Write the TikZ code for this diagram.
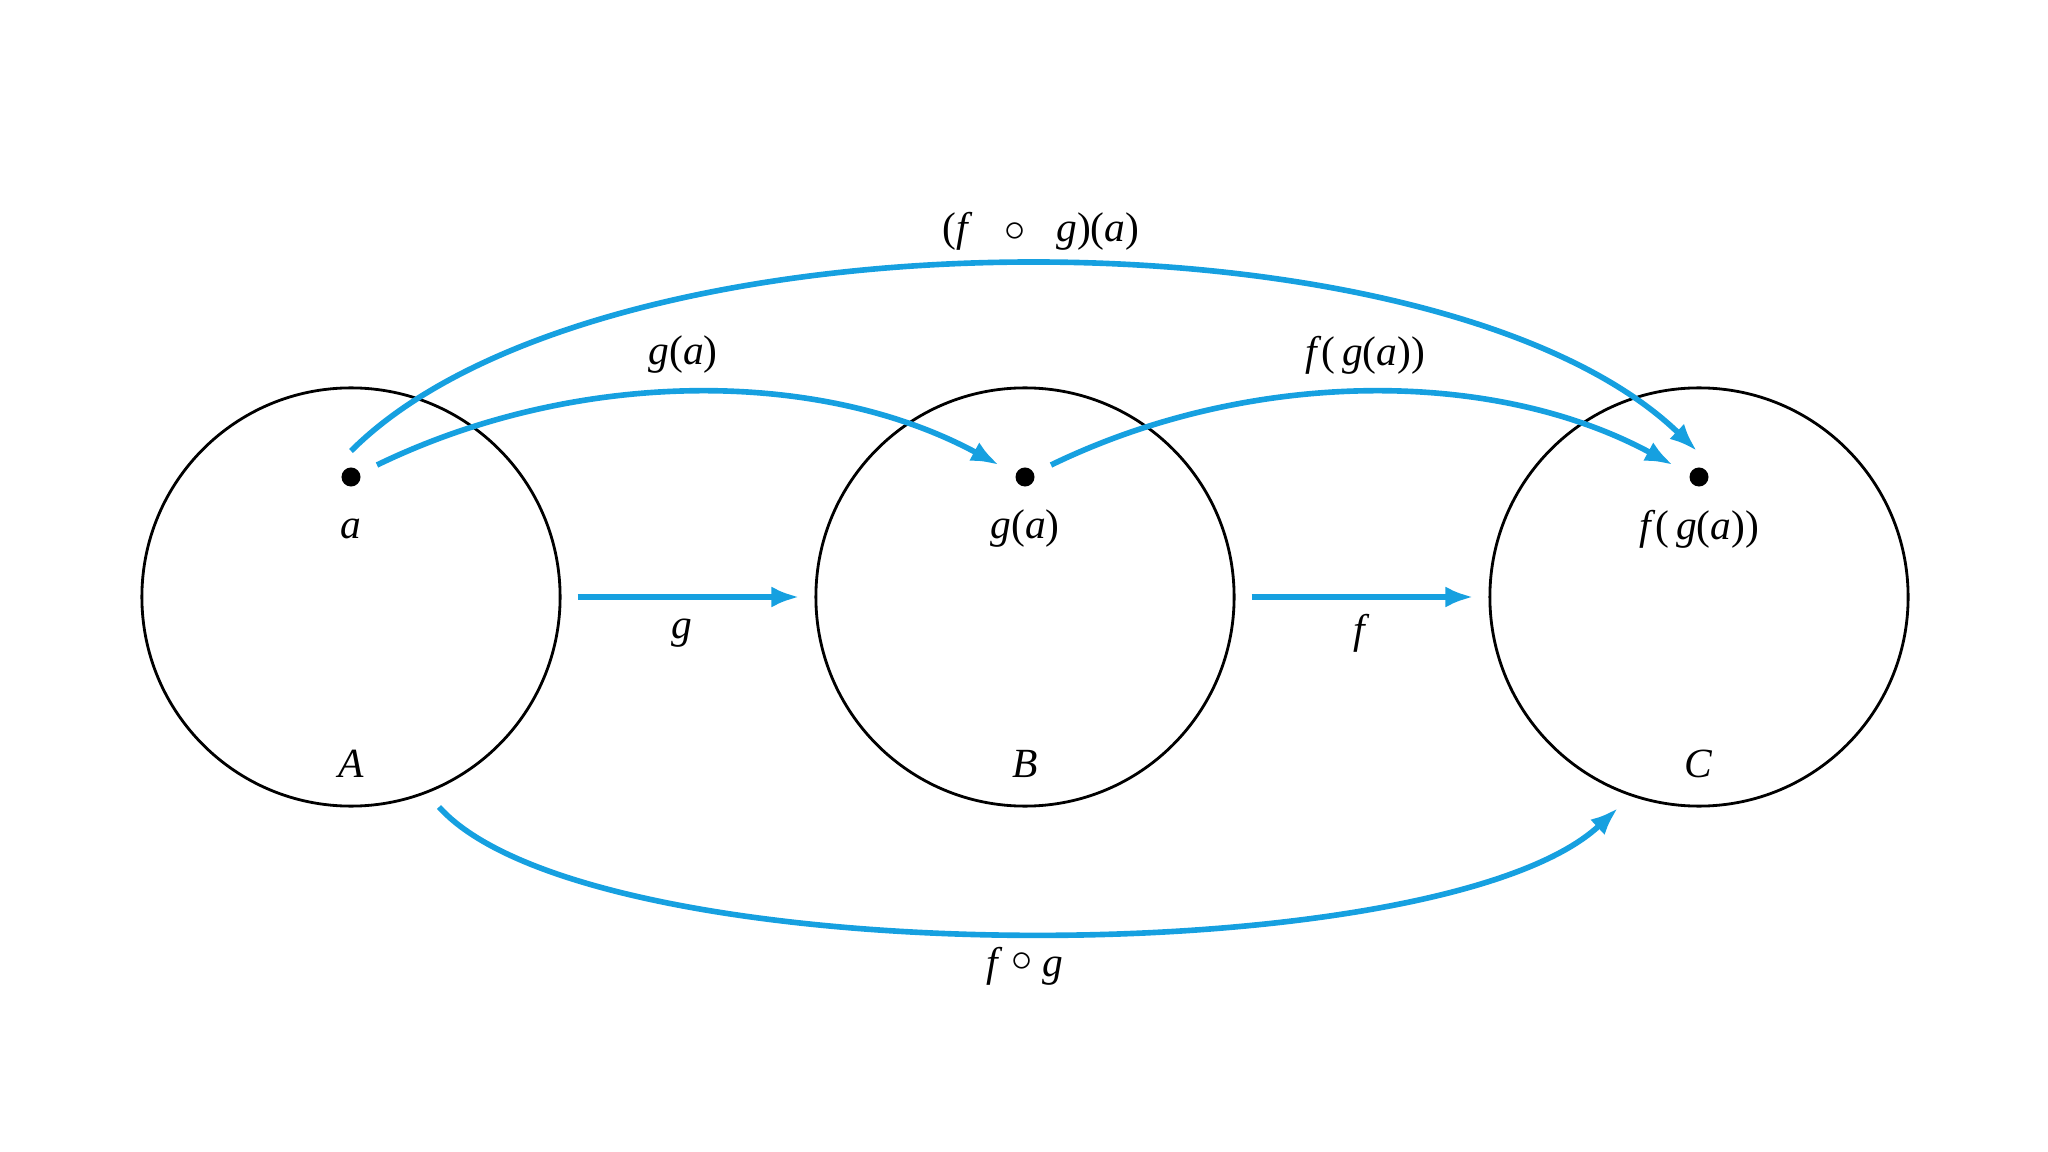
\documentclass[tikz,border=0pt]{standalone}
\usepackage{fontspec}
\setmainfont{Liberation Serif}
\usetikzlibrary{arrows.meta,calc}
\definecolor{mapblue}{RGB}{22,160,224}
\begin{document}
\begin{tikzpicture}[x=0.01cm,y=-0.01cm,
  setcircle/.style={circle,draw=black,line width=0.8pt,minimum size=4.18cm,inner sep=0pt},
  elemdot/.style={circle,fill=black,inner sep=0pt,minimum size=0.19cm},
  maparrow/.style={draw=mapblue,line width=1.6pt,-{Latex[length=0.28cm,width=0.21cm]}},
  lbl/.style={inner sep=0pt,font=\fontsize{11.8}{14}\selectfont}]
\useasboundingbox (0,0) rectangle (2048,1152);
% sets
\node[setcircle] (A) at (351,597) {};
\node[setcircle] (B) at (1025,597) {};
\node[setcircle] (C) at (1699,597) {};
% elements
\node[elemdot] (da) at (351,477) {};
\node[elemdot] (db) at (1025,477) {};
\node[elemdot] (dc) at (1699,477) {};
% labels inside
\node[lbl] (la) at (351,529) {\textit{a}};
\node[lbl] (lb) at (1025,529) {\textit{g}(\textit{a})};
\node[lbl] (lc) at (1699,529) {\textit{f}(\,\textit{g}(\textit{a}))};
\node[lbl] (nA) at (351,764) {\textit{A}};
\node[lbl] (nB) at (1025,764) {\textit{B}};
\node[lbl] (nC) at (1699,764) {\textit{C}};
% straight maps
\draw[maparrow,shorten <=0.16cm,shorten >=0.15cm] (A) -- (B);
\draw[maparrow,shorten <=0.16cm,shorten >=0.15cm] (B) -- (C);
\node[lbl] (lg) at (682,633) {\textit{g}};
\node[lbl] (lf) at (1362,633) {\textit{f}};
% element arcs
\draw[maparrow] ($(da)+(26,-12)$) .. controls (577,368) and (820,368) .. ($(db)+(-26,-12)$);
\draw[maparrow] ($(db)+(26,-12)$) .. controls (1251,368) and (1494,368) .. ($(dc)+(-26,-12)$);
\draw[maparrow] ($(da)+(0,-26)$) .. controls (600,202) and (1440,202) .. ($(dc)+(-2,-26)$);
\node[lbl] (lga) at (683,355) {\textit{g}(\textit{a})};
\node[lbl] (lfga) at (1365,355) {\textit{f}(\,\textit{g}(\textit{a}))};
\node[lbl] (lcomp) at (1041,231) {(\textit{f}\hspace{0.75em}$\circ$\hspace{0.75em}\textit{g})(\textit{a})};
% composite map
\draw[maparrow] ($(A)+(88,210)$) .. controls (590,975) and (1440,975) .. ($(C)+(-81,211)$);
\node[lbl] (lfg) at (1025,966) {\textit{f}\hspace{0.2em}\raisebox{0.25ex}{$\circ$}\hspace{0.25em}\textit{g}};
\end{tikzpicture}
\end{document}
